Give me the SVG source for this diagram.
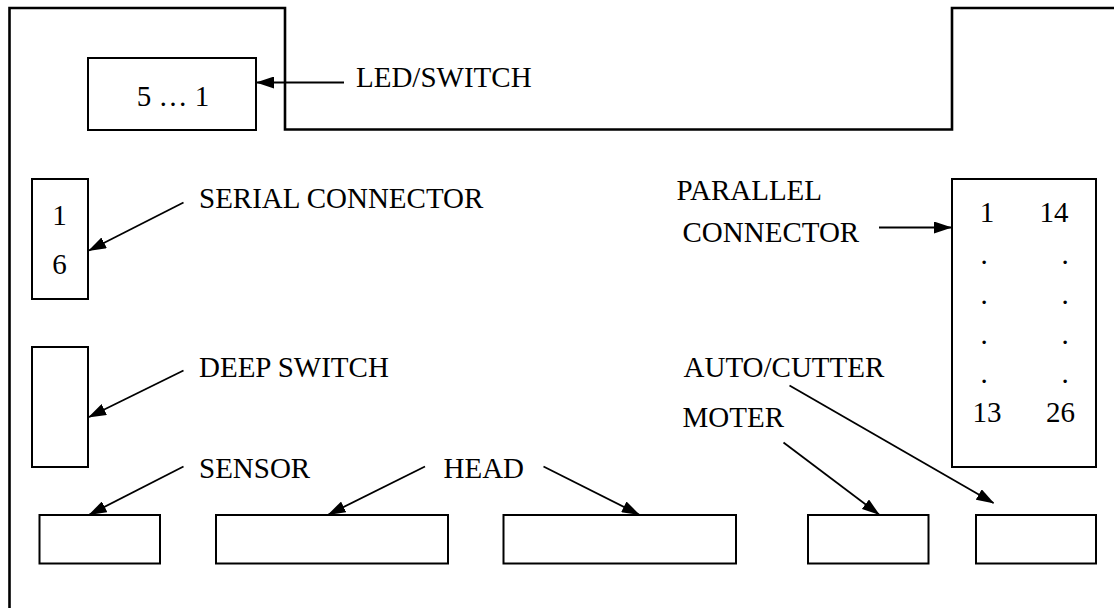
<svg xmlns="http://www.w3.org/2000/svg" width="1114" height="608" viewBox="0 0 1114 608">
<style>
.box{fill:#fff;stroke:#000;stroke-width:2}
.outline{fill:none;stroke:#000;stroke-width:2.6}
.lbl{font-family:"Liberation Serif","Times New Roman",serif;font-size:29px;fill:#000}
.num{font-family:"Liberation Serif","Times New Roman",serif;font-size:29px;fill:#000;text-anchor:middle}
.conn line{stroke:#000;stroke-width:1.8;marker-end:url(#ah)}
</style>
<defs>
<marker id="ah" markerUnits="userSpaceOnUse" markerWidth="18" markerHeight="12" viewBox="0 0 18 12" refX="17" refY="6" orient="auto">
<path d="M0,0 L18,6 L0,12 Z" fill="#000"/>
</marker>
</defs>
<rect width="1114" height="608" fill="#fff"/>
<path class="outline" d="M9.5,608 V8 H285 V129.5 H952 V8 H1114"/>
<g id="led">
<rect class="box" x="88" y="58" width="168" height="72"/>
<text class="num" x="173" y="106">5 … 1</text>
</g>
<g id="serial">
<rect class="box" x="32" y="179" width="56" height="120"/>
<text class="num" x="59.5" y="225">1</text>
<text class="num" x="59.5" y="274">6</text>
</g>
<g id="deep">
<rect class="box" x="32" y="347" width="56" height="120"/>
</g>
<g id="parallel">
<rect class="box" x="952" y="179" width="144" height="288"/>
<text class="num" x="987" y="222">1</text>
<text class="num" x="1054" y="222">14</text>
<text class="num" x="984" y="264">.</text>
<text class="num" x="1065" y="264">.</text>
<text class="num" x="984" y="304">.</text>
<text class="num" x="1065" y="304">.</text>
<text class="num" x="984" y="344">.</text>
<text class="num" x="1065" y="344">.</text>
<text class="num" x="984" y="383">.</text>
<text class="num" x="1065" y="383">.</text>
<text class="num" x="987" y="422">13</text>
<text class="num" x="1060.5" y="422">26</text>
</g>
<g id="sensor"><rect class="box" x="39.5" y="515" width="120.5" height="48.5"/></g>
<g id="head1"><rect class="box" x="216" y="515" width="232" height="48.5"/></g>
<g id="head2"><rect class="box" x="503.5" y="515" width="232.5" height="48.5"/></g>
<g id="motor"><rect class="box" x="808" y="515" width="120.5" height="48.5"/></g>
<g id="cutter"><rect class="box" x="976" y="515" width="120" height="48.5"/></g>
<g id="labels">
<text class="lbl" x="356" y="87">LED/SWITCH</text>
<text class="lbl" x="199" y="208">SERIAL CONNECTOR</text>
<text class="lbl" x="676.5" y="200">PARALLEL</text>
<text class="lbl" x="682.5" y="242">CONNECTOR</text>
<text class="lbl" x="199" y="377">DEEP SWITCH</text>
<text class="lbl" x="683.5" y="377">AUTO/CUTTER</text>
<text class="lbl" x="682.5" y="427">MOTER</text>
<text class="lbl" x="199" y="478">SENSOR</text>
<text class="lbl" x="443.5" y="478">HEAD</text>
</g>
<g id="connectors" class="conn">
<line x1="344" y1="82.5" x2="257" y2="82.5"/>
<line x1="183.5" y1="202.5" x2="89" y2="250.5"/>
<line x1="879" y1="227.5" x2="951" y2="227.5"/>
<line x1="183.5" y1="370.5" x2="89" y2="417"/>
<line x1="183.5" y1="466.5" x2="89.5" y2="514.5"/>
<line x1="425" y1="466.5" x2="328.5" y2="514.5"/>
<line x1="543.5" y1="466.5" x2="639" y2="514.5"/>
<line x1="783.5" y1="442.5" x2="879" y2="514.5"/>
<line x1="789.5" y1="385.5" x2="993.5" y2="503"/>
</g>
</svg>
